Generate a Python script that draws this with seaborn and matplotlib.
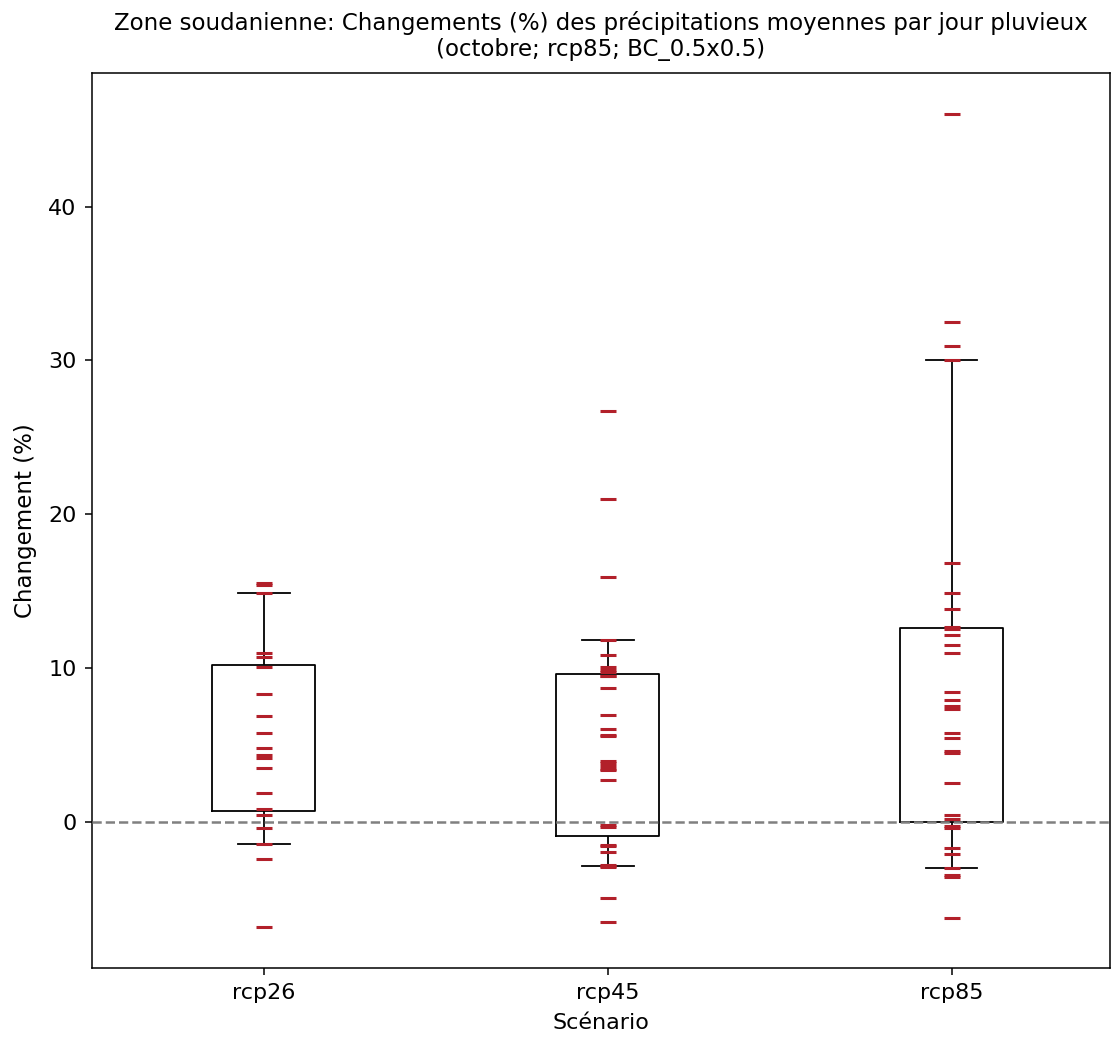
import numpy as np
import pandas as pd
import seaborn as sns
import matplotlib
matplotlib.use('Agg')
import matplotlib.pyplot as plt

## Data (changes in %, one value per model)
scenarios = ['rcp26', 'rcp45', 'rcp85']

rcp26 = [15.54, 15.39, 14.87, 10.97, 10.69, 10.04, 8.27, 6.84, 5.78, 4.81,
         4.31, 4.13, 3.49, 1.86, 0.80, 0.41, -0.39, -1.43, -2.45, -6.88]

rcp45 = [26.70, 20.97, 15.88, 11.84, 10.84, 10.06, 9.89, 9.70, 9.50, 9.45,
         8.68, 6.95, 6.04, 5.65, 5.60, 3.92, 3.80, 3.61, 3.45, 3.38,
         2.73, -0.22, -0.35, -1.55, -1.62, -2.01, -2.85, -2.90, -2.97,
         -4.94, -6.56]

rcp85 = [46.05, 32.53, 30.95, 30.00, 16.80, 14.85, 13.83, 12.65, 12.50,
         12.14, 11.49, 10.95, 8.46, 7.92, 7.50, 7.30, 5.78, 5.43, 4.60,
         4.45, 2.51, 0.44, 0.19, -0.30, -0.40, -1.69, -2.08, -3.00, -3.48,
         -3.58, -6.30]

title = ("Zone soudanienne: Changements (%) des précipitations moyennes par jour pluvieux\n"
         "(octobre; rcp85; BC_0.5x0.5)")

df = pd.DataFrame({
    'scenario': ['rcp26'] * len(rcp26) + ['rcp45'] * len(rcp45) + ['rcp85'] * len(rcp85),
    'value': rcp26 + rcp45 + rcp85,
})

fig = plt.figure(figsize=(11.12, 10.39), dpi=100)
ax = fig.add_axes([0.0827, 0.0683, 0.9153, 0.8614])

## Box: 25-75 %, whiskers: 10-90 %, no median line
sns.boxplot(data=df, x='scenario', y='value', order=scenarios, ax=ax,
            whis=(10, 90), showfliers=False, width=0.3, fill=False,
            color='black', linewidth=1.3,
            medianprops={'linewidth': 0})

## Each model as a short red dash
sns.stripplot(data=df, x='scenario', y='value', order=scenarios, ax=ax,
              jitter=False, marker='_', size=12, linewidth=2.2,
              color='#b2202a', zorder=3)

ax.axhline(0, color='gray', linestyle='--', linewidth=1.8, zorder=4)

ax.set_xlim(-0.5, 2.46)
ax.set_title(title, fontsize=16.5, pad=12)
ax.set_xlabel('Scénario', fontsize=16, labelpad=7)
ax.set_ylabel('Changement (%)', fontsize=16.5, labelpad=8)
ax.tick_params(labelsize=16, length=5, width=1.1, pad=6)
for sp in ax.spines.values():
    sp.set_linewidth(1.1)

fig.savefig('out.png', dpi=100)
